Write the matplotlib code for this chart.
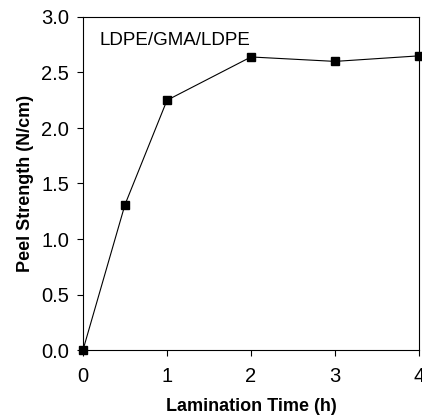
import numpy as np
import matplotlib
matplotlib.use("Agg")
import matplotlib.pyplot as plt

plt.rcParams['font.family'] = ['Liberation Sans', 'DejaVu Sans']

time_h = [0, 0.5, 1, 2, 3, 4]
peel = [0.0, 1.31, 2.25, 2.64, 2.60, 2.65]

fig = plt.figure(figsize=(4.22, 4.15), dpi=100)
ax = fig.add_axes([83/422, 1 - 350/415, 336/422, 333/415])

ax.plot(time_h, peel, color='black', lw=0.8, marker='s', ms=6,
        mfc='black', mec='black', clip_on=False, zorder=3)

ax.set_xlim(0, 4)
ax.set_ylim(0, 3.0)
ax.set_xticks([0, 1, 2, 3, 4])
ax.set_yticks(np.arange(0, 3.01, 0.5))
ax.set_yticklabels(['%.1f' % v for v in np.arange(0, 3.01, 0.5)])
ax.tick_params(direction='out', length=4, width=0.8, labelsize=14.5, pad=6)
ax.tick_params(axis='x', pad=8)

for s in ax.spines.values():
    s.set_linewidth(0.8)

ax.set_xlabel('Lamination Time (h)', fontsize=13, fontweight='bold', labelpad=9)
ax.set_ylabel('Peel Strength (N/cm)', fontsize=13, fontweight='bold', labelpad=5)
ax.text(0.2, 2.79, 'LDPE/GMA/LDPE', fontsize=13.5, ha='left', va='center')

fig.savefig('out.png', dpi=100)
